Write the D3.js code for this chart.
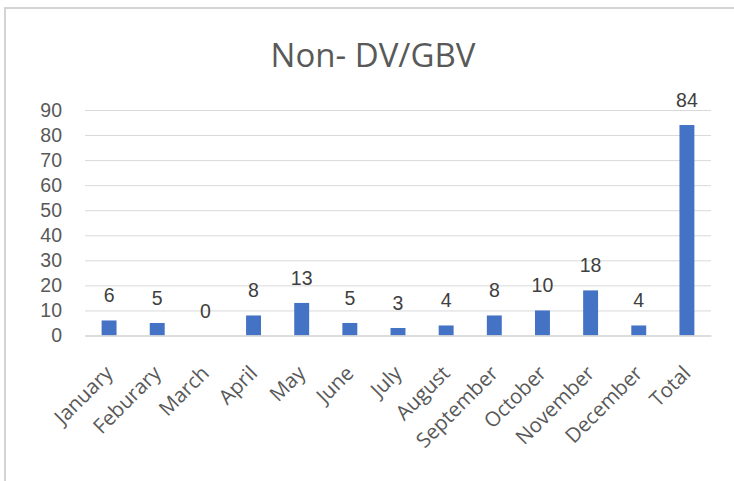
<!DOCTYPE html>
<html>
<head>
<meta charset="utf-8">
<script src="https://cdn.jsdelivr.net/npm/d3@7"></script>
<style>
  html, body { margin: 0; padding: 0; background: #fff; }
  svg { display: block; }
</style>
</head>
<body>
<svg id="chart" width="734" height="481"></svg>
<script>
const title = "Non- DV/GBV";
const categories = ["January","Feburary","March","April","May","June","July","August","September","October","November","December","Total"];
const values = [6,5,0,8,13,5,3,4,8,10,18,4,84];
const yTicks = [0,10,20,30,40,50,60,70,80,90];

const svg = d3.select("#chart");
const W = 734, H = 481;
const plot = {left: 85, right: 711, top: 110, bottom: 335.5};

// chart border
svg.append("rect")
  .attr("x", 5).attr("y", 8)
  .attr("width", W + 10).attr("height", H + 10)
  .attr("fill", "#fff")
  .attr("stroke", "#d4d4d4").attr("stroke-width", 2);

const x = d3.scaleBand().domain(categories).range([plot.left, plot.right]).paddingInner(0.69).paddingOuter(0.345);
const y = d3.scaleLinear().domain([0, 90]).range([plot.bottom, plot.top]);

// title
svg.append("text")
  .attr("x", 373).attr("y", 67)
  .attr("text-anchor", "middle")
  .attr("font-family", "Open Sans, sans-serif")
  .attr("font-size", 33)
  .attr("fill", "#595959")
  .text(title);

// gridlines
const yAxis = d3.axisLeft(y).tickValues(yTicks).tickSize(-(plot.right - plot.left)).tickPadding(23);
const gy = svg.append("g").attr("transform", `translate(${plot.left},0)`).call(yAxis);
gy.select(".domain").remove();
gy.selectAll(".tick line").attr("stroke", "#d9d9d9").attr("stroke-width", 1);
gy.selectAll(".tick text")
  .attr("font-family", "Liberation Sans, Arial, sans-serif")
  .attr("font-size", 19.5)
  .attr("fill", "#595959");

// bars
svg.append("g").selectAll("rect")
  .data(values)
  .join("rect")
  .attr("x", (d, i) => x(categories[i]))
  .attr("y", d => y(d))
  .attr("width", x.bandwidth())
  .attr("height", d => y(0) - y(d))
  .attr("fill", "#4472C4");

// data labels
svg.append("g").selectAll("text")
  .data(values)
  .join("text")
  .attr("x", (d, i) => x(categories[i]) + x.bandwidth() / 2)
  .attr("y", d => y(d) - 18)
  .attr("text-anchor", "middle")
  .attr("font-family", "Liberation Sans, Arial, sans-serif")
  .attr("font-size", 19.5)
  .attr("fill", "#404040")
  .text(d => d);

// x labels
const xAxis = d3.axisBottom(x).tickSize(0).tickPadding(0);
const gx = svg.append("g").attr("transform", `translate(0,${plot.bottom})`).call(xAxis);
gx.select(".domain").attr("stroke", "#d9d9d9").attr("stroke-width", 1.5);
gx.selectAll(".tick text")
  .attr("font-family", "Open Sans, sans-serif")
  .attr("font-size", 20.5)
  .attr("fill", "#595959")
  .attr("text-anchor", "end")
  .attr("dy", 0)
  .attr("y", 0)
  .attr("transform", "translate(5,39) rotate(-45)");
</script>
</body>
</html>
